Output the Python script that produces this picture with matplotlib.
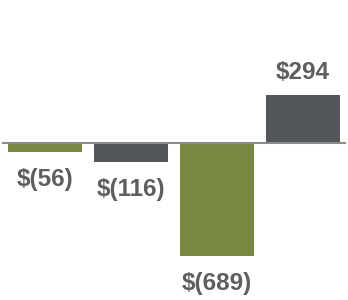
import matplotlib
matplotlib.use("Agg")
import matplotlib.pyplot as plt

categories = ["A", "B", "C", "D"]
values = [-56, -116, -689, 294]
labels = ["$(56)", "$(116)", "$(689)", "$294"]
colors = ["#788843", "#52555a", "#788843", "#52555a"]

plt.rcParams['font.family'] = ['Liberation Sans', 'DejaVu Sans']

fig = plt.figure(figsize=(3.48, 3.0), dpi=100)
ax = fig.add_axes([0, 0, 1, 1])
x = list(range(len(values)))
bars = ax.bar(x, values, width=0.86, color=colors, zorder=2)
ax.set_xlim(-0.523, 3.523)
ax.set_ylim(-960.8, 878.6)
ax.axhline(0, xmin=0.009, xmax=0.991, color="#8c8c8c", lw=1.5, zorder=3)
for xi, v, lab in zip(x, values, labels):
    off = 16 if v > 0 else -34
    ax.annotate(lab, (xi, v), xytext=(0, off), textcoords="offset pixels",
                ha="center", va="baseline", fontsize=17.5, fontweight="bold",
                color="#5e5e5e")
ax.axis("off")
fig.savefig("out.png", dpi=100)
